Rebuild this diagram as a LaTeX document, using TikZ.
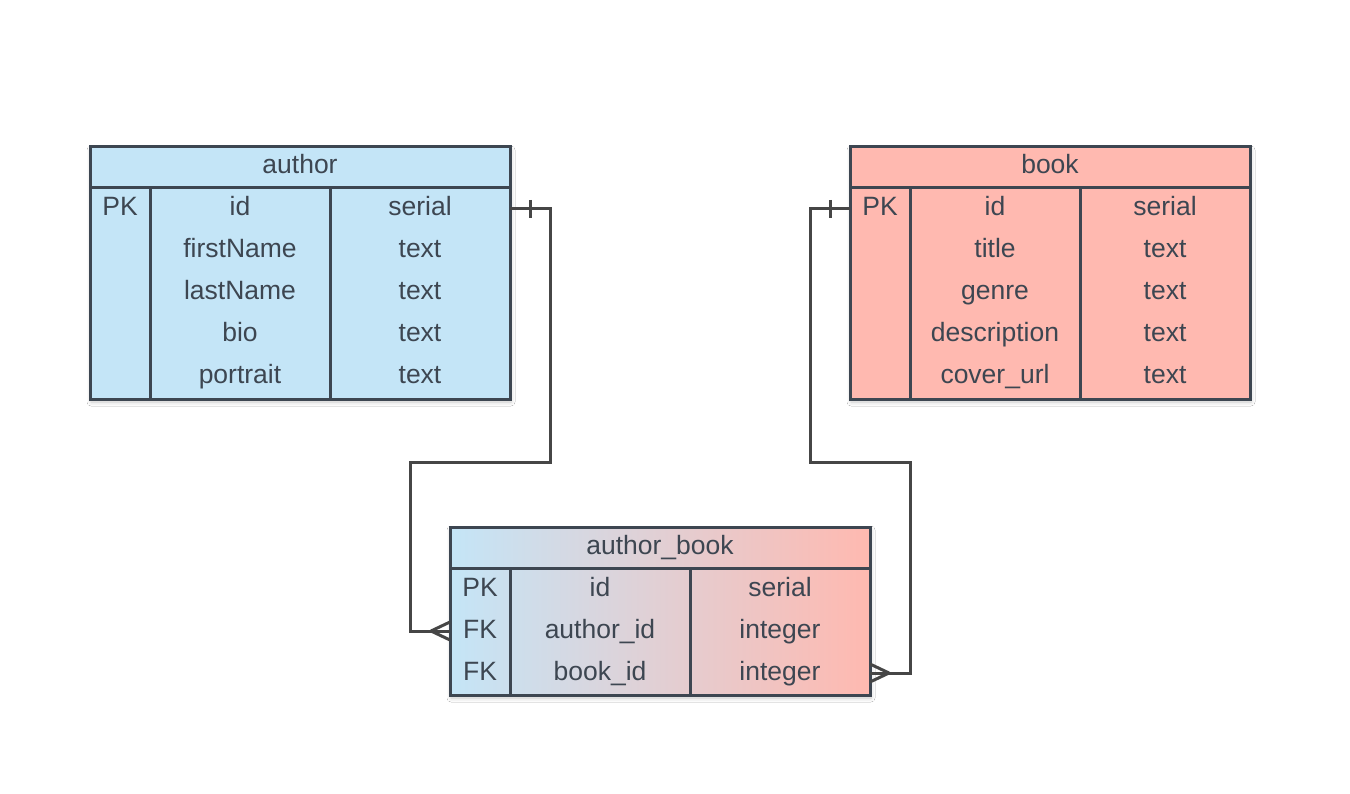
\documentclass[tikz,border=0pt]{standalone}
\usepackage{fontspec}
\setmainfont{Liberation Sans}
\usetikzlibrary{shadows.blur}
\definecolor{bord}{HTML}{3D4651}
\definecolor{txtc}{HTML}{3D4651}
\definecolor{connc}{HTML}{464646}
\definecolor{authfill}{HTML}{C4E5F7}
\definecolor{bookfill}{HTML}{FFB9B0}
\tikzset{
  tbl/.style={draw=bord, line width=3pt, inner sep=0pt, outer sep=0pt,
    blur shadow={shadow xshift=1pt, shadow yshift=-3pt, shadow blur radius=4pt, shadow opacity=22}},
  gridl/.style={draw=bord, line width=3pt},
  cell/.style={anchor=base, text=txtc, font=\fontsize{26.5}{30}\selectfont, inner sep=0pt},
  rowbox/.style={inner sep=0pt, outer sep=0pt, minimum height=42pt},
  conn/.style={draw=connc, line width=3pt},
}
\begin{document}
\begin{tikzpicture}[x=1pt,y=-1pt]
\useasboundingbox[fill=white] (0,0) rectangle (1350,794);

% ---------- author ----------
\node[tbl, fill=authfill, minimum width=420pt, minimum height=252pt] (author) at (300,273) {};
\draw[gridl] (90,188) -- (510,188);
\draw[gridl] (150,188) -- (150,399);
\draw[gridl] (330,188) -- (330,399);
\node[cell] (authorT) at (300,174) {author};
\node[cell] (aPK) at (120,216) {PK};
\node[cell] (a1n) at (240,216) {id};        \node[cell] (a1t) at (420,216) {serial};
\node[cell] (a2n) at (240,258) {firstName}; \node[cell] (a2t) at (420,258) {text};
\node[cell] (a3n) at (240,300) {lastName};  \node[cell] (a3t) at (420,300) {text};
\node[cell] (a4n) at (240,342) {bio};       \node[cell] (a4t) at (420,342) {text};
\node[cell] (a5n) at (240,384) {portrait};  \node[cell] (a5t) at (420,384) {text};
\node[rowbox, minimum width=420pt] (arowid) at (300,209) {};

% ---------- book ----------
\node[tbl, fill=bookfill, minimum width=400pt, minimum height=252pt] (book) at (1050,273) {};
\draw[gridl] (850,188) -- (1250,188);
\draw[gridl] (910,188) -- (910,399);
\draw[gridl] (1080,188) -- (1080,399);
\node[cell] (bookT) at (1050,174) {book};
\node[cell] (bPK) at (880,216) {PK};
\node[cell] (b1n) at (995,216) {id};          \node[cell] (b1t) at (1165,216) {serial};
\node[cell] (b2n) at (995,258) {title};       \node[cell] (b2t) at (1165,258) {text};
\node[cell] (b3n) at (995,300) {genre};       \node[cell] (b3t) at (1165,300) {text};
\node[cell] (b4n) at (995,342) {description}; \node[cell] (b4t) at (1165,342) {text};
\node[cell] (b5n) at (995,384) {cover\_url};  \node[cell] (b5t) at (1165,384) {text};
\node[rowbox, minimum width=400pt] (browid) at (1050,209) {};

% ---------- author_book ----------
\node[tbl, left color=authfill, right color=bookfill, minimum width=420pt, minimum height=168pt] (ab) at (660,611) {};
\draw[gridl] (450,568) -- (870,568);
\draw[gridl] (510,568) -- (510,695);
\draw[gridl] (690,568) -- (690,695);
\node[cell] (abT) at (660,554) {author\_book};
\node[cell] (abPK) at (480,596) {PK};
\node[cell] (abFK1) at (480,638) {FK};
\node[cell] (abFK2) at (480,680) {FK};
\node[cell] (ab1n) at (600,596) {id};        \node[cell] (ab1t) at (780,596) {serial};
\node[cell] (ab2n) at (600,638) {author\_id}; \node[cell] (ab2t) at (780,638) {integer};
\node[cell] (ab3n) at (600,680) {book\_id};   \node[cell] (ab3t) at (780,680) {integer};
\node[rowbox, minimum width=420pt] (abrowauth) at (660,631) {};
\node[rowbox, minimum width=420pt] (abrowbook) at (660,673) {};

% ---------- connectors ----------
\coordinate (c1) at (550,209);
\coordinate (c2) at (550,462);
\coordinate (c3) at (410,462);
\coordinate (c4) at (410,631);
\draw[conn] (arowid.east) -- (c1) -- (c2) -- (c3) -- (c4) -- (abrowauth.west);
\draw[conn] (arowid.east) ++(20,-9) -- ++(0,18);
\draw[conn] (abrowauth.west) ++(-19,0) -- ++(19,-9);
\draw[conn] (abrowauth.west) ++(-19,0) -- ++(19,9);

\coordinate (d1) at (810,209);
\coordinate (d2) at (810,462);
\coordinate (d3) at (910,462);
\coordinate (d4) at (910,673);
\draw[conn] (browid.west) -- (d1) -- (d2) -- (d3) -- (d4) -- (abrowbook.east);
\draw[conn] (browid.west) ++(-20,-9) -- ++(0,18);
\draw[conn] (abrowbook.east) ++(19,0) -- ++(-19,-9);
\draw[conn] (abrowbook.east) ++(19,0) -- ++(-19,9);
\end{tikzpicture}
\end{document}
